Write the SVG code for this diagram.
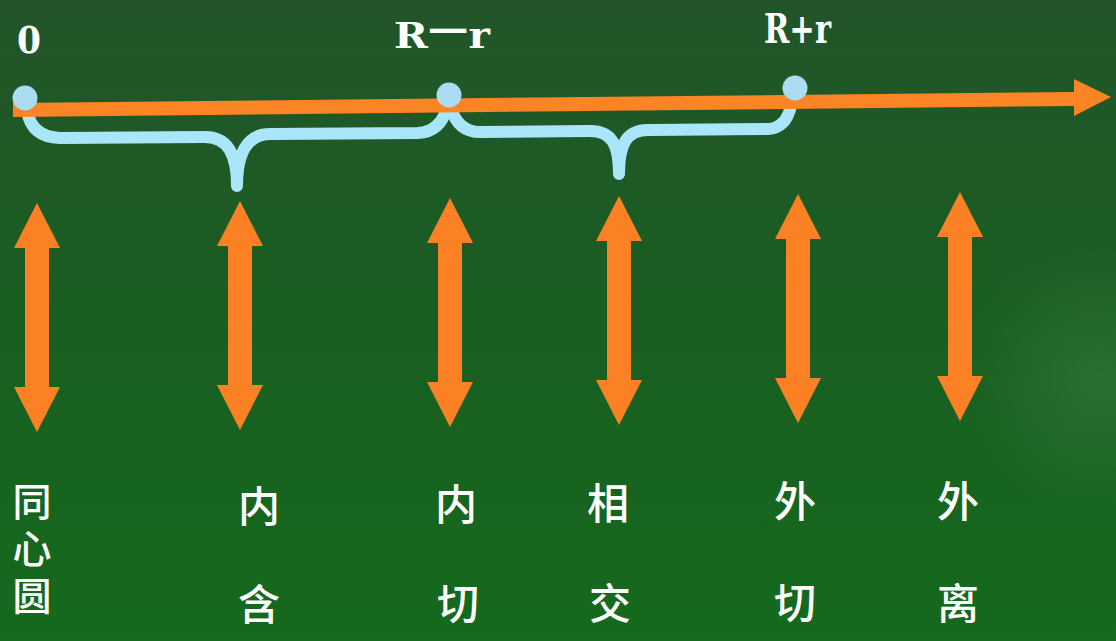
<svg xmlns="http://www.w3.org/2000/svg" width="1116" height="641" viewBox="0 0 1116 641">
<defs>
<linearGradient id="bg" x1="0" y1="0" x2="0" y2="1">
<stop offset="0" stop-color="#22552a"/>
<stop offset="0.5" stop-color="#1a5e21"/>
<stop offset="1" stop-color="#156a1d"/>
</linearGradient>
<radialGradient id="glow" cx="1100" cy="380" r="140" gradientUnits="userSpaceOnUse">
<stop offset="0" stop-color="#3a7a40" stop-opacity="0.55"/>
<stop offset="1" stop-color="#3a7a40" stop-opacity="0"/>
</radialGradient>
<path id="darr" d="M0,0 L23,45 L12,45 L12,184 L23,184 L0,229 L-23,184 L-12,184 L-12,45 L-23,45 Z"/>
<style>
.ax{fill:#fb8424}
.dot{fill:#acdcf2}
.brace{fill:none;stroke:#a9e6fa;stroke-width:12;stroke-linecap:round;stroke-linejoin:round}
.va{fill:#fc8124}
.lab{fill:#ffffff;font-family:"DejaVu Serif","Liberation Serif",serif;font-weight:bold}
.cn{fill:#ffffff;font-family:"Noto Sans CJK SC",sans-serif;font-size:42px;font-weight:500;text-anchor:middle}
.cv{fill:#ffffff;font-family:"Noto Sans CJK SC",sans-serif;font-size:39px;font-weight:500;writing-mode:vertical-rl;letter-spacing:8px}
</style>
</defs>
<rect width="1116" height="641" fill="url(#bg)"/>
<rect width="1116" height="641" fill="url(#glow)"/>
<g id="connectors">
<path class="brace" d="M27,110 Q31,137 60,138 L205,137 C228,137 237,155 237,186 C237,155 246,134 270,134 L418,133 Q440,132 447,108"/>
<path class="brace" d="M451,108 Q458,132 480,132 L590,131 C612,131 619,145 619,174 C619,145 626,130 648,130 L768,129 Q786,128 791,106"/>
</g>
<g id="axis">
<polygon class="ax" points="13,103 1074,92 1074,79 1111,97 1074,116 1074,106 13,117"/>
</g>
<g id="p0"><circle class="dot" cx="25" cy="98" r="12.5"/><text class="lab" x="17" y="53" font-size="37" textLength="24" lengthAdjust="spacingAndGlyphs">0</text></g>
<g id="p1"><circle class="dot" cx="449" cy="95" r="12.5"/><text class="lab" x="394" y="48" font-size="35" textLength="96" lengthAdjust="spacingAndGlyphs">R<tspan dy="-8">—</tspan><tspan dy="8">r</tspan></text></g>
<g id="p2"><circle class="dot" cx="795" cy="88" r="12.5"/><text class="lab" x="764" y="43" font-size="41" textLength="67" lengthAdjust="spacingAndGlyphs">R+r</text></g>
<g id="arrows">
<use href="#darr" class="va" x="37" y="203"/>
<use href="#darr" class="va" x="240" y="201"/>
<use href="#darr" class="va" x="450" y="198"/>
<use href="#darr" class="va" x="619" y="196"/>
<use href="#darr" class="va" x="798" y="194"/>
<use href="#darr" class="va" x="960" y="192"/>
</g>
<g id="l1"><text class="cv" x="32" y="482">同心圆</text></g>
<g id="l2"><text class="cn" x="259" y="522">内</text><text class="cn" x="259" y="620">含</text></g>
<g id="l3"><text class="cn" x="456" y="520">内</text><text class="cn" x="458" y="619">切</text></g>
<g id="l4"><text class="cn" x="608" y="519">相</text><text class="cn" x="610" y="619">交</text></g>
<g id="l5"><text class="cn" x="795" y="517">外</text><text class="cn" x="795" y="618">切</text></g>
<g id="l6"><text class="cn" x="958" y="517">外</text><text class="cn" x="958" y="619">离</text></g>
</svg>
